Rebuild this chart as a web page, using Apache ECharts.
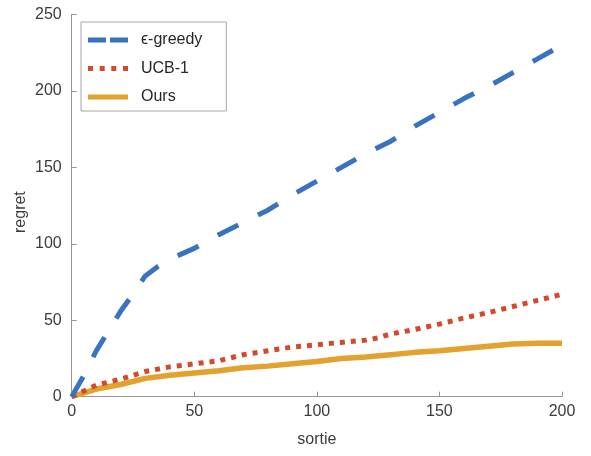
<!DOCTYPE html>
<html>
<head>
<meta charset="utf-8">
<script src="https://cdn.jsdelivr.net/npm/echarts@6/dist/echarts.min.js"></script>
<style>
  html, body { margin: 0; padding: 0; background: #fff; }
  #chart { width: 591px; height: 456px; }
</style>
</head>
<body>
<div id="chart"></div>
<script>
// sortie positions (x) for each curve
const sortieBlue = [0, 5, 10, 15, 20, 25, 30, 35, 40, 50, 60, 70, 80, 90, 100, 110, 120, 130, 140, 150, 160, 170, 180, 190, 200];
const greedyRegret = [0, 14, 30, 43, 56, 67, 79, 85, 90, 97, 106, 114, 122, 132, 141, 150, 159, 167, 177, 186, 195, 203, 212, 221, 230];

const sortieRed = [0, 10, 20, 30, 40, 50, 60, 70, 80, 90, 100, 110, 120, 125, 130, 140, 150, 160, 170, 180, 190, 200];
const ucbRegret = [0, 7.5, 11.5, 16.5, 19.5, 21.5, 23.5, 27.5, 30, 32.5, 34, 35.5, 37, 38.5, 41, 44, 47.5, 51.5, 55, 59, 63, 67];

const sortieOurs = [0, 10, 20, 30, 40, 50, 60, 70, 80, 90, 100, 110, 120, 130, 140, 150, 160, 170, 180, 190, 200];
const oursRegret = [0, 5, 8, 12, 14, 15.5, 17, 19, 20, 21.5, 23, 25, 26, 27.5, 29, 30, 31.5, 33, 34.5, 35, 35];

const legendNames = ['\u03f5-greedy', 'UCB-1', 'Ours'];

// legend samples drawn as filled paths (dash, dot, solid); the tiny
// subpath at x=48 only widens the box so the label sits further right
const pad = ' M48,0h0.01v5h-0.01z';
const iconDash = 'path://M0,0h18v5h-18z M22,0h18v5h-18z' + pad;
const iconDot = 'path://M0,0h5v5h-5z M11.7,0h5v5h-5z M23.3,0h5v5h-5z M35,0h5v5h-5z' + pad;
const iconSolid = 'path://M0,0h40v5h-40z' + pad;

const pairs = (xs, ys) => xs.map((x, i) => [x, ys[i]]);

const textColor = '#3c3c3c';
const axisColor = '#969696';
const fontFamily = '"Liberation Sans", Arial, Helvetica, sans-serif';

const chart = echarts.init(document.getElementById('chart'));

chart.setOption({
  backgroundColor: '#fff',
  animation: false,
  textStyle: { fontFamily },
  grid: { left: 71.7, right: 29, top: 14.5, bottom: 59.3 },
  legend: {
    orient: 'vertical',
    left: 81,
    top: 22,
    padding: [10, 24, 6, 7],
    borderColor: '#a6a6a6',
    borderWidth: 1,
    itemWidth: 48,
    itemHeight: 5,
    itemGap: 12.5,
    textStyle: { fontSize: 16, color: '#262626', fontFamily, lineHeight: 16 },
    data: [
      { name: legendNames[0], icon: iconDash },
      { name: legendNames[1], icon: iconDot },
      { name: legendNames[2], icon: iconSolid }
    ]
  },
  xAxis: {
    type: 'value',
    min: 0,
    max: 200,
    interval: 50,
    name: 'sortie',
    nameLocation: 'middle',
    nameGap: 35,
    nameMoveOverlap: false,
    nameTextStyle: { fontSize: 16, color: textColor },
    axisLine: { lineStyle: { color: axisColor, width: 1 } },
    axisTick: { inside: true, length: 5, lineStyle: { color: axisColor } },
    axisLabel: { fontSize: 16, color: textColor, margin: 7 },
    splitLine: { show: false }
  },
  yAxis: {
    type: 'value',
    min: 0,
    max: 250,
    interval: 50,
    name: 'regret',
    nameLocation: 'middle',
    nameGap: 43,
    nameMoveOverlap: false,
    nameTextStyle: { fontSize: 16, color: textColor, padding: [0, 13, 0, 0] },
    axisLine: { show: true, lineStyle: { color: axisColor, width: 1 } },
    axisTick: { show: true, inside: true, length: 5, lineStyle: { color: axisColor } },
    axisLabel: { fontSize: 16, color: textColor, margin: 10 },
    splitLine: { show: false }
  },
  series: [
    {
      name: legendNames[0],
      type: 'line',
      data: pairs(sortieBlue, greedyRegret),
      showSymbol: false,
      symbol: 'none',
      color: '#3a72c2',
      lineStyle: { width: 5, type: [23, 22], cap: 'butt', color: '#3a72c2' },
      z: 3
    },
    {
      name: legendNames[1],
      type: 'line',
      data: pairs(sortieRed, ucbRegret),
      showSymbol: false,
      symbol: 'none',
      color: '#d5492a',
      lineStyle: { width: 5, type: [5, 6], cap: 'butt', color: '#d5492a' },
      z: 2
    },
    {
      name: legendNames[2],
      type: 'line',
      data: pairs(sortieOurs, oursRegret),
      showSymbol: false,
      symbol: 'none',
      color: '#e3a12d',
      lineStyle: { width: 5.5, type: 'solid', color: '#e3a12d' },
      z: 1
    }
  ]
});
</script>
</body>
</html>
